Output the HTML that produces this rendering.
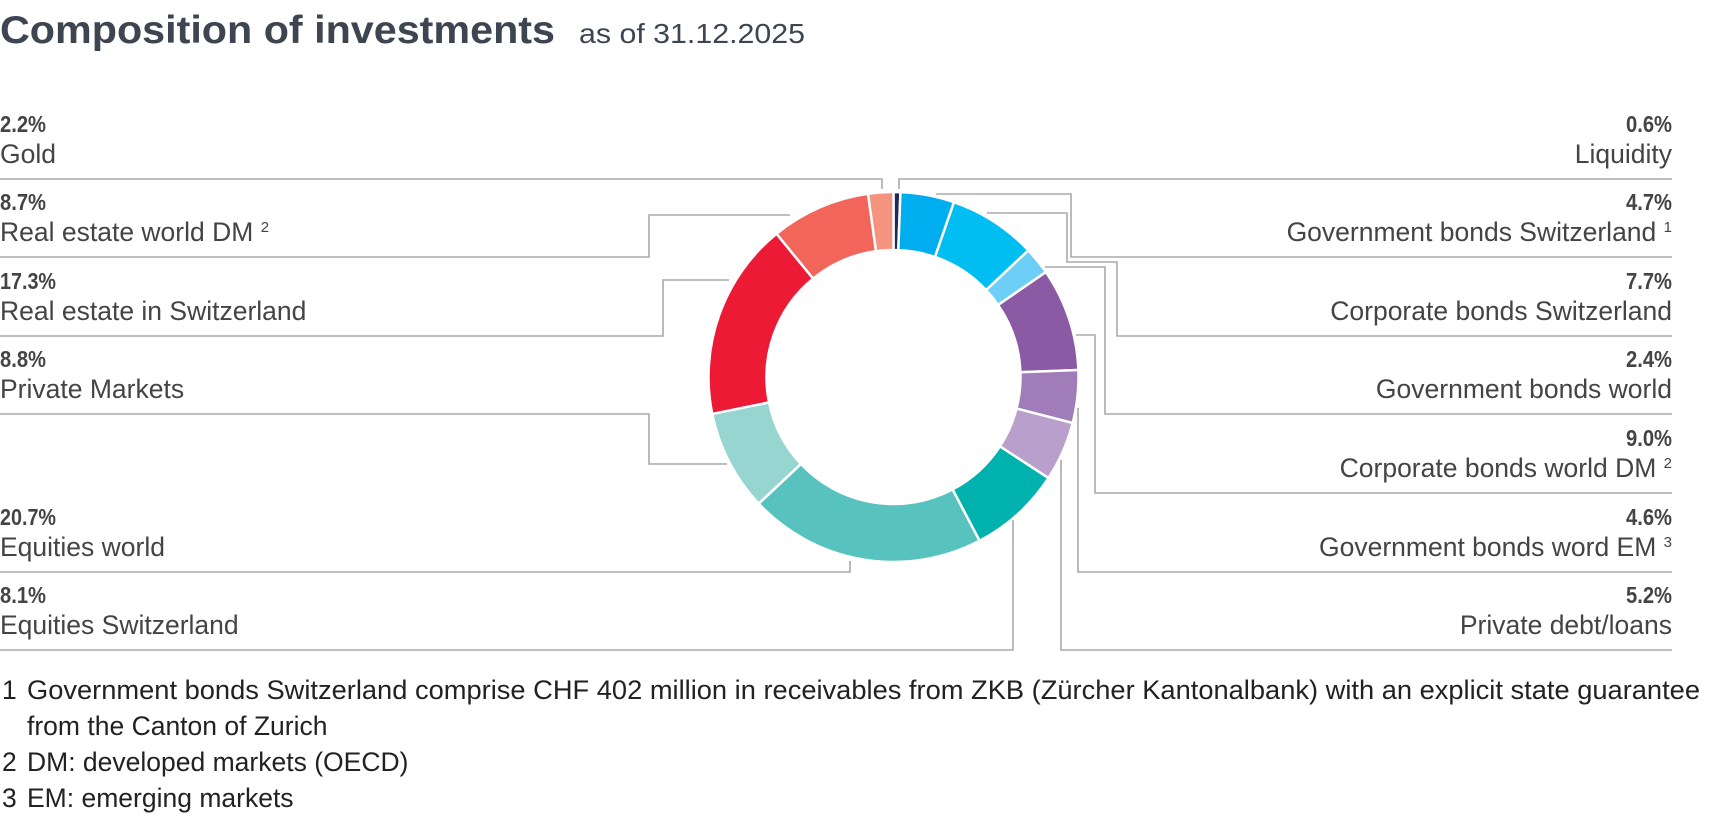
<!DOCTYPE html>
<html><head><meta charset="utf-8"><style>
html,body{margin:0;padding:0;background:#fff;}
svg{display:block;}
text{font-family:"Liberation Sans",sans-serif;}
.p{font-size:23px;font-weight:bold;fill:#444;}
.n{font-size:26.5px;fill:#444;}
.f{font-size:26.5px;fill:#222;}
.l{stroke:#aaa;stroke-width:1.6;fill:none;}
</style></head><body>
<svg id="s" width="1720" height="823" viewBox="0 0 1720 823" xmlns="http://www.w3.org/2000/svg">
<text x="0" y="43" font-size="39" font-weight="bold" fill="#3d4650" textLength="555" lengthAdjust="spacingAndGlyphs">Composition of investments</text>
<text x="579" y="43" font-size="28" fill="#3d4650" textLength="226" lengthAdjust="spacingAndGlyphs">as of 31.12.2025</text>

<g id="ring"></g>

<g>
<text class="p" x="0" y="132" textLength="46" lengthAdjust="spacingAndGlyphs">2.2%</text><text class="n" x="0" y="163">Gold</text>
<text class="p" x="0" y="210" textLength="46" lengthAdjust="spacingAndGlyphs">8.7%</text><text class="n" x="0" y="241">Real estate world DM <tspan font-size="15" dy="-9">2</tspan></text>
<text class="p" x="0" y="289" textLength="56" lengthAdjust="spacingAndGlyphs">17.3%</text><text class="n" x="0" y="320">Real estate in Switzerland</text>
<text class="p" x="0" y="367" textLength="46" lengthAdjust="spacingAndGlyphs">8.8%</text><text class="n" x="0" y="398">Private Markets</text>
<text class="p" x="0" y="525" textLength="56" lengthAdjust="spacingAndGlyphs">20.7%</text><text class="n" x="0" y="556">Equities world</text>
<text class="p" x="0" y="603" textLength="46" lengthAdjust="spacingAndGlyphs">8.1%</text><text class="n" x="0" y="634">Equities Switzerland</text>
</g>
<g text-anchor="end">
<text class="p" x="1672" y="132" textLength="46" lengthAdjust="spacingAndGlyphs">0.6%</text><text class="n" x="1672" y="163">Liquidity</text>
<text class="p" x="1672" y="210" textLength="46" lengthAdjust="spacingAndGlyphs">4.7%</text><text class="n" x="1672" y="241">Government bonds Switzerland <tspan font-size="15" dy="-9">1</tspan></text>
<text class="p" x="1672" y="289" textLength="46" lengthAdjust="spacingAndGlyphs">7.7%</text><text class="n" x="1672" y="320">Corporate bonds Switzerland</text>
<text class="p" x="1672" y="367" textLength="46" lengthAdjust="spacingAndGlyphs">2.4%</text><text class="n" x="1672" y="398">Government bonds world</text>
<text class="p" x="1672" y="446" textLength="46" lengthAdjust="spacingAndGlyphs">9.0%</text><text class="n" x="1672" y="477">Corporate bonds world DM <tspan font-size="15" dy="-9">2</tspan></text>
<text class="p" x="1672" y="525" textLength="46" lengthAdjust="spacingAndGlyphs">4.6%</text><text class="n" x="1672" y="556">Government bonds word EM <tspan font-size="15" dy="-9">3</tspan></text>
<text class="p" x="1672" y="603" textLength="46" lengthAdjust="spacingAndGlyphs">5.2%</text><text class="n" x="1672" y="634">Private debt/loans</text>
</g>

<path class="l" d="M0 179H882V189"/>
<path class="l" d="M0 257H649V215H790"/>
<path class="l" d="M0 336H663V280H729"/>
<path class="l" d="M0 414H649V464H727"/>
<path class="l" d="M0 572H850V561"/>
<path class="l" d="M0 650H1013V520"/>
<path class="l" d="M1672 179H899V189"/>
<path class="l" d="M1672 257H1071V194H936"/>
<path class="l" d="M1672 336H1117V262H1067V213H987"/>
<path class="l" d="M1672 414H1105V267H1045"/>
<path class="l" d="M1672 493H1095V335H1076"/>
<path class="l" d="M1672 572H1078V408"/>
<path class="l" d="M1672 650H1061V460"/>

<text class="f" x="2" y="699">1</text><text class="f" x="27" y="699" textLength="1673" lengthAdjust="spacingAndGlyphs">Government bonds Switzerland comprise CHF 402 million in receivables from ZKB (Zürcher Kantonalbank) with an explicit state guarantee</text>
<text class="f" x="27" y="735">from the Canton of Zurich</text>
<text class="f" x="2" y="771">2</text><text class="f" x="27" y="771">DM: developed markets (OECD)</text>
<text class="f" x="2" y="807">3</text><text class="f" x="27" y="807">EM: emerging markets</text>
</svg>
<script>
(function(){
var d=[[0.6,"#1d2b5c"],[4.7,"#00aeef"],[7.7,"#00bdf2"],[2.4,"#6dcff6"],[9.0,"#8b5aa5"],[4.6,"#a07db8"],[5.2,"#b9a0cc"],[8.1,"#00b2ae"],[20.7,"#58c3be"],[8.8,"#97d5d1"],[17.3,"#ed1a35"],[8.7,"#f1655a"],[2.2,"#f5937f"]];
var cx=893.5,cy=377,R=185,r=127,a=0,g=document.getElementById("ring"),h="";
function pt(rad,ang){return (cx+rad*Math.sin(ang)).toFixed(2)+" "+(cy-rad*Math.cos(ang)).toFixed(2);}
d.forEach(function(e){var a0=a/100*2*Math.PI;a+=e[0];var a1=a/100*2*Math.PI;var lg=(a1-a0)>Math.PI?1:0;
h+='<path d="M'+pt(R,a0)+' A'+R+' '+R+' 0 '+lg+' 1 '+pt(R,a1)+' L'+pt(r,a1)+' A'+r+' '+r+' 0 '+lg+' 0 '+pt(r,a0)+' Z" fill="'+e[1]+'" stroke="#fff" stroke-width="2.5"/>';});
g.innerHTML=h;
})();
</script>
</body></html>
